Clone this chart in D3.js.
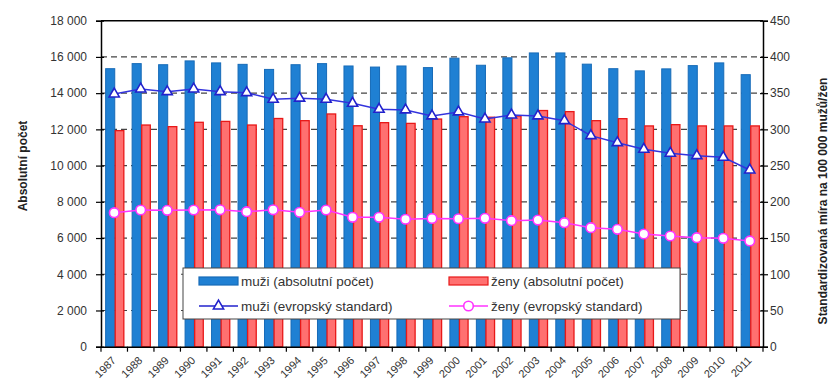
<!DOCTYPE html>
<html><head><meta charset="utf-8">
<script src="https://cdn.jsdelivr.net/npm/d3@7"></script>
<style>
body{margin:0;background:#fff;}
svg{display:block;font-family:"Liberation Sans",Arial,sans-serif;}
</style></head>
<body><svg id="c" width="835" height="387"></svg>
<script>
const years = ["1987","1988","1989","1990","1991","1992","1993","1994","1995","1996","1997","1998","1999","2000","2001","2002","2003","2004","2005","2006","2007","2008","2009","2010","2011"];
const menAbs = [15350,15630,15570,15780,15670,15590,15310,15570,15630,15500,15440,15500,15410,15930,15540,15950,16220,16220,15600,15350,15230,15340,15520,15670,15020];
const womenAbs = [11930,12240,12150,12390,12440,12240,12600,12480,12850,12200,12370,12330,12570,12700,12670,12740,13040,12980,12480,12590,12190,12260,12190,12190,12190];
const menStd = [348.8,355.7,352,355.7,352,350.6,341.5,343,341.5,336,327.7,326.8,318.5,324,314.3,319.8,318.5,312,291.3,281.6,272.5,267,263.7,261.4,243.9];
const womenStd = [185,188.7,188.2,188.7,189,186.4,189,185.6,188.7,178.6,178.6,175.9,177,176.6,177.2,174,174.8,171.2,164.3,162,155.6,152.8,150.5,149.6,146];
const leftTicks = [0,2000,4000,6000,8000,10000,12000,14000,16000,18000];
const rightTicks = [0,50,100,150,200,250,300,350,400,450];
const legendLabels = ["muži (absolutní počet)","ženy (absolutní počet)","muži (evropský standard)","ženy (evropský standard)"];
const leftTitle = "Absolutní počet";
const rightTitle = "Standardizovaná míra na 100 000 mužů/žen";

const svg = d3.select("#c");
const L=101, R=763, T=20.7, B=346.7;
const x = d3.scaleBand().domain(years).range([L,R]);
const yL = d3.scaleLinear().domain([0,18000]).range([B,T]);
const yR = d3.scaleLinear().domain([0,450]).range([B,T]);
const inner = d3.scaleBand().domain(["m","w"]).range([0,x.bandwidth()]).paddingOuter(0.38).paddingInner(0.0);
const fmt = v => d3.format(",")(v).replace(/,/g," ");

// gridlines
svg.append("g").selectAll("line").data(leftTicks.filter(t=>t>0&&t<18000)).join("line")
  .attr("x1",L).attr("x2",R).attr("y1",d=>yL(d)).attr("y2",d=>yL(d))
  .attr("stroke","#444").attr("stroke-width",1.2).attr("stroke-dasharray","6,4");

// bars
const g = svg.append("g");
g.selectAll("rect.m").data(years).join("rect").attr("class","m")
  .attr("x",d=>x(d)+inner("m")+1).attr("width",inner.bandwidth()-0.5)
  .attr("y",(d,i)=>yL(menAbs[i])).attr("height",(d,i)=>B-yL(menAbs[i]))
  .attr("fill","#1F80D3").attr("stroke","#176bb8").attr("stroke-width",1);
g.selectAll("rect.w").data(years).join("rect").attr("class","w")
  .attr("x",d=>x(d)+inner("w")+1).attr("width",inner.bandwidth()-1)
  .attr("y",(d,i)=>yL(womenAbs[i])).attr("height",(d,i)=>B-yL(womenAbs[i]))
  .attr("fill","#FF7070").attr("stroke","#E81818").attr("stroke-width",1.3);

// lines
const cx = d => x(d)+x.bandwidth()/2;
const lineM = d3.line().x((d,i)=>cx(years[i])).y(d=>yR(d));
svg.append("path").datum(menStd).attr("d",lineM).attr("fill","none").attr("stroke","#3333DD").attr("stroke-width",1.5);
svg.append("path").datum(womenStd).attr("d",lineM).attr("fill","none").attr("stroke","#FF33FF").attr("stroke-width",1.5);
const tri = d3.symbol().type(d3.symbolTriangle).size(45);
svg.append("g").selectAll("path").data(menStd).join("path")
  .attr("d",tri).attr("transform",(d,i)=>`translate(${cx(years[i])},${yR(d)})`)
  .attr("fill","#fff").attr("stroke","#2222CC").attr("stroke-width",1.6);
svg.append("g").selectAll("circle").data(womenStd).join("circle")
  .attr("cx",(d,i)=>cx(years[i])).attr("cy",d=>yR(d)).attr("r",4.8)
  .attr("fill","#fff").attr("stroke","#FF33FF").attr("stroke-width",1.6);

// axes
const axL = d3.axisLeft(yL).tickValues(leftTicks).tickFormat(fmt).tickSize(5).tickPadding(9);
const gL = svg.append("g").attr("transform",`translate(${L},0)`).call(axL);
const axR = d3.axisRight(yR).tickValues(rightTicks).tickSize(5).tickPadding(2);
const gR = svg.append("g").attr("transform",`translate(${R},0)`).call(axR);
[gL,gR].forEach(gg=>{
  gg.select(".domain").attr("stroke","#000").attr("stroke-width",1.5);
  gg.selectAll(".tick line").attr("stroke","#000").attr("stroke-width",1.2);
  gg.selectAll(".tick text").attr("font-size",12).attr("fill","#333").attr("font-family","Liberation Sans, Arial, sans-serif");
});
gL.selectAll(".tick line").attr("x1",3);
gR.selectAll(".tick line").attr("x1",-3);
// top border
svg.append("line").attr("x1",L).attr("x2",R).attr("y1",T).attr("y2",T).attr("stroke","#000").attr("stroke-width",1.5);
// bottom axis
const axB = d3.axisBottom(x).tickSize(0).tickFormat("");
const gB = svg.append("g").attr("transform",`translate(0,${B})`).call(axB);
gB.select(".domain").attr("stroke","#000").attr("stroke-width",1.5);
svg.append("g").selectAll("line").data(years.concat(["end"])).join("line")
  .attr("x1",(d,i)=>i<years.length?x(d):R).attr("x2",(d,i)=>i<years.length?x(d):R)
  .attr("y1",B).attr("y2",B+5).attr("stroke","#000").attr("stroke-width",1.2);
svg.append("g").selectAll("text").data(years).join("text")
  .attr("transform",d=>`translate(${cx(d)-3},${B+9}) rotate(-45)`)
  .attr("text-anchor","end").attr("dy","0.7em").attr("font-size",11).attr("fill","#333").text(d=>d);

// titles
svg.append("text").attr("transform",`translate(27,166) rotate(-90)`).attr("text-anchor","middle")
  .attr("font-size",12).attr("font-weight","bold").attr("fill","#222").text(leftTitle);
svg.append("text").attr("transform",`translate(827,201) rotate(-90)`).attr("text-anchor","middle")
  .attr("font-size",12).attr("font-weight","bold").attr("fill","#222").text(rightTitle);

// legend
const lg = svg.append("g");
lg.append("rect").attr("x",183).attr("y",268).attr("width",497).attr("height",51)
  .attr("fill","#fff").attr("stroke","#444").attr("stroke-width",1);
const items = [
  {x:199,y:281,type:"bar",fill:"#1F80D3",stroke:"#176bb8"},
  {x:449,y:281,type:"bar",fill:"#FF7070",stroke:"#E81818"},
  {x:199,y:306,type:"tri",stroke:"#2222CC"},
  {x:449,y:306,type:"circ",stroke:"#FF33FF"}
];
items.forEach((it,i)=>{
  if(it.type==="bar"){
    lg.append("rect").attr("x",it.x).attr("y",it.y-4).attr("width",39).attr("height",8)
      .attr("fill",it.fill).attr("stroke",it.stroke).attr("stroke-width",1.2);
  } else {
    lg.append("line").attr("x1",it.x).attr("x2",it.x+39).attr("y1",it.y).attr("y2",it.y)
      .attr("stroke",it.stroke).attr("stroke-width",1.5);
    if(it.type==="tri") lg.append("path").attr("d",tri).attr("transform",`translate(${it.x+19.5},${it.y})`)
      .attr("fill","#fff").attr("stroke",it.stroke).attr("stroke-width",1.6);
    else lg.append("circle").attr("cx",it.x+19.5).attr("cy",it.y).attr("r",4.8)
      .attr("fill","#fff").attr("stroke",it.stroke).attr("stroke-width",1.6);
  }
  lg.append("text").attr("x",it.x+42).attr("y",it.y).attr("dy","0.35em")
    .attr("font-size",13.5).attr("fill","#333").text(legendLabels[i]);
});
</script></body></html>
